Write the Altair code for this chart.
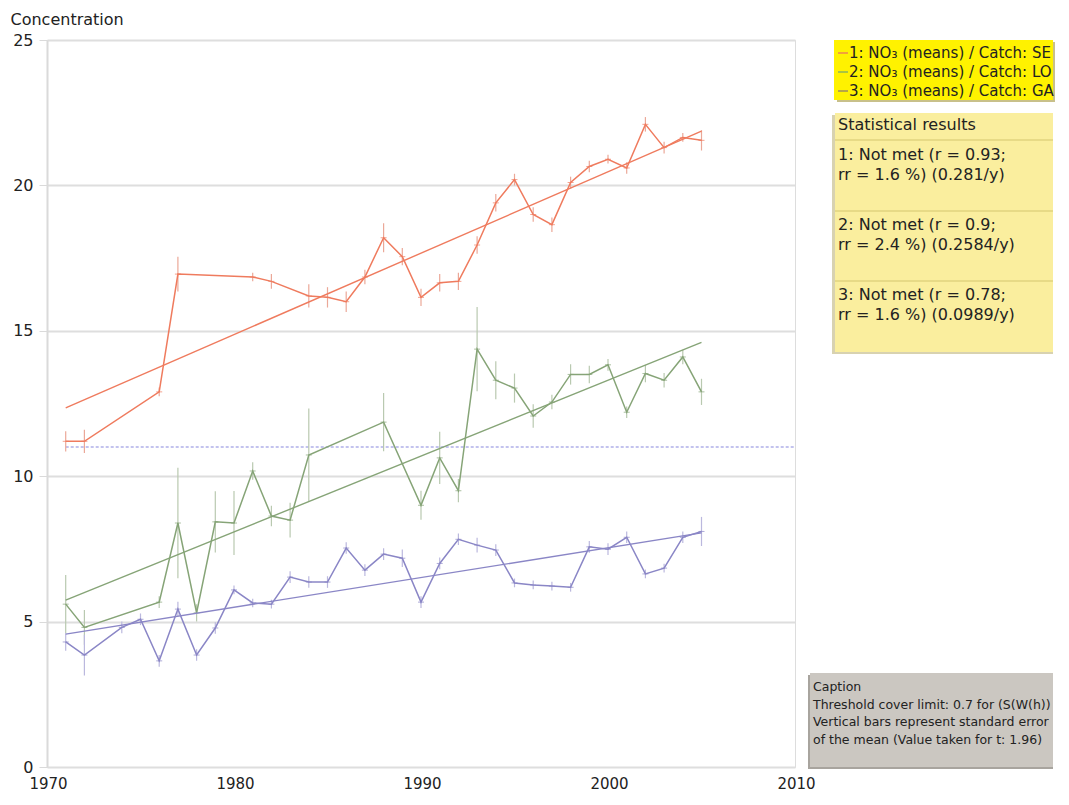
import altair as alt
import pandas as pd

# ---------------- data ----------------
se_years = [1971, 1972, 1976, 1977, 1981, 1982, 1984, 1985, 1986, 1987, 1988, 1989, 1990, 1991, 1992,
            1993, 1994, 1995, 1996, 1997, 1998, 1999, 2000, 2001, 2002, 2003, 2004, 2005]
se_vals = [11.2, 11.2, 12.9, 16.95, 16.85, 16.7, 16.2, 16.15, 16.0, 16.85, 18.2, 17.55, 16.15, 16.65, 16.7,
           17.95, 19.4, 20.2, 19.0, 18.65, 20.1, 20.65, 20.9, 20.6, 22.1, 21.3, 21.65, 21.55]
se_err = [0.35, 0.4, 0.15, 0.6, 0.15, 0.25, 0.4, 0.35, 0.35, 0.25, 0.5, 0.3, 0.3, 0.3, 0.3,
          0.3, 0.3, 0.2, 0.25, 0.25, 0.2, 0.2, 0.15, 0.2, 0.25, 0.2, 0.15, 0.35]

lo_years = [1971, 1972, 1976, 1977, 1978, 1979, 1980, 1981, 1982, 1983, 1984, 1988, 1990, 1991, 1992,
            1993, 1994, 1995, 1996, 1997, 1998, 1999, 2000, 2001, 2002, 2003, 2004, 2005]
lo_vals = [5.6, 4.8, 5.67, 8.39, 5.3, 8.43, 8.39, 10.18, 8.63, 8.49, 10.73, 11.86, 9.0, 10.63, 9.5,
           14.37, 13.3, 13.03, 12.07, 12.55, 13.5, 13.5, 13.83, 12.2, 13.53, 13.3, 14.1, 12.9]
lo_err = [1.0, 0.6, 0.2, 1.9, 0.3, 1.05, 1.1, 0.3, 0.35, 0.6, 1.6, 1.0, 0.5, 0.9, 0.4,
          1.45, 0.65, 0.5, 0.4, 0.25, 0.35, 0.3, 0.2, 0.2, 0.3, 0.25, 0.25, 0.45]

ga_years = [1971, 1972, 1974, 1975, 1976, 1977, 1978, 1979, 1980, 1981, 1982, 1983, 1984, 1985, 1986,
            1987, 1988, 1989, 1990, 1991, 1992, 1993, 1994, 1995, 1996, 1997, 1998, 1999, 2000, 2001,
            2002, 2003, 2004, 2005]
ga_vals = [4.3, 3.85, 4.8, 5.08, 3.65, 5.43, 3.85, 4.78, 6.09, 5.64, 5.6, 6.53, 6.36, 6.36, 7.53,
           6.77, 7.32, 7.18, 5.67, 7.0, 7.83, 7.63, 7.46, 6.33, 6.26, 6.22, 6.18, 7.57, 7.49, 7.9,
           6.64, 6.84, 7.9, 8.1]
ga_err = [0.3, 0.7, 0.2, 0.2, 0.2, 0.25, 0.2, 0.2, 0.15, 0.15, 0.15, 0.2, 0.2, 0.2, 0.2,
          0.2, 0.2, 0.3, 0.2, 0.2, 0.2, 0.25, 0.2, 0.15, 0.15, 0.15, 0.15, 0.2, 0.2, 0.2,
          0.15, 0.15, 0.2, 0.5]

trend_years = [1971, 2005]
se_trend = [12.35, 21.87]
lo_trend = [5.74, 14.6]
ga_trend = [4.57, 8.05]

threshold_years = [1971, 2010]
threshold_vals = [11.0, 11.0]

x_ticks = [1970, 1980, 1990, 2000, 2010]
y_ticks = [0, 5, 10, 15, 20, 25]

legend_lines = ["1: NO\u2083 (means) / Catch: SE",
                "2: NO\u2083 (means) / Catch: LO",
                "3: NO\u2083 (means) / Catch: GA"]
stats_title = "Statistical results"
stats_lines = [["1: Not met (r = 0.93;", "rr = 1.6 %) (0.281/y)"],
               ["2: Not met (r = 0.9;", "rr = 2.4 %) (0.2584/y)"],
               ["3: Not met (r = 0.78;", "rr = 1.6 %) (0.0989/y)"]]
caption_lines = ["Caption",
                 "Threshold cover limit: 0.7 for (S(W(h))",
                 "Vertical bars represent standard error",
                 "of the mean (Value taken for t: 1.96)"]

# ---------------- styling ----------------
FONT = "DejaVu Sans"
W, H = 748, 727
RIGHT = 1006  # right edge of side boxes, in plot coordinates
line_colors = ["#EF7B5E", "#86A477", "#8A86C6"]
err_colors = ["#EBA898", "#B9C9B0", "#BBB8DE"]
legend_marker_colors = ["#F2A23A", "#A9C443", "#B7A646"]

xs = alt.Scale(domain=[1970, 2010], nice=False, zero=False)
ys = alt.Scale(domain=[0, 25], nice=False, zero=True)

X = alt.X("year:Q", scale=xs,
          axis=alt.Axis(values=x_ticks, format="d", title=None, grid=False, domain=False,
                        ticks=False, labelFontSize=15, labelPadding=9, labelColor="#222",
                        labelFont=FONT, labelFlush=False, labelOffset=1))
Y = alt.Y("value:Q", scale=ys,
          axis=alt.Axis(values=y_ticks, title="Concentration", titleAngle=0, titleAlign="left",
                        titleBaseline="alphabetic", titleX=-37, titleY=-16, titleFontSize=16,
                        titleFontWeight="normal", titleColor="#222", titleFont=FONT,
                        labelFontSize=16, labelPadding=6, labelColor="#222", labelFont=FONT,
                        tickSize=8, tickColor="#DADADA", domainColor="#DADADA", domainWidth=2,
                        grid=True, gridColor="#DEDEDE", gridWidth=2))

series = [
    (se_years, se_vals, se_err, se_trend),
    (lo_years, lo_vals, lo_err, lo_trend),
    (ga_years, ga_vals, ga_err, ga_trend),
]

layers = []

thr = pd.DataFrame({"year": threshold_years, "value": threshold_vals})
layers.append(alt.Chart(thr).mark_line(color="#C3C3EE", strokeWidth=2, strokeDash=[3, 2]).encode(x=X, y=Y))

for i, (yrs, vals, errs, trend) in enumerate(series):
    df = pd.DataFrame({"year": yrs, "value": vals,
                       "lo": [v - e for v, e in zip(vals, errs)],
                       "hi": [v + e for v, e in zip(vals, errs)]})
    layers.append(alt.Chart(df).mark_rule(color=err_colors[i], strokeWidth=1.2).encode(
        x=X, y=alt.Y("lo:Q", scale=ys), y2="hi:Q"))
    td = pd.DataFrame({"year": trend_years, "value": trend})
    layers.append(alt.Chart(td).mark_line(color=line_colors[i], strokeWidth=1.4).encode(x=X, y=Y))
    layers.append(alt.Chart(df).mark_line(color=line_colors[i], strokeWidth=1.5).encode(x=X, y=Y))
    layers.append(alt.Chart(df).mark_tick(color=line_colors[i], orient="horizontal", size=6,
                                          thickness=1).encode(x=X, y=Y))

one = alt.Data(values=[{"k": 1}])


def rect(x1, x2, y1, y2, fill, stroke=None, sw=0):
    kw = {"fill": fill}
    if stroke:
        kw.update(stroke=stroke, strokeWidth=sw)
    return alt.Chart(one).mark_rect(**kw).encode(
        x=alt.value(x1), x2=alt.value(x2), y=alt.value(y1), y2=alt.value(y2))


def text(t, x, y, size=16, color="#222"):
    return alt.Chart(one).mark_text(text=t, align="left", baseline="middle", font=FONT,
                                    fontSize=size, color=color).encode(
        x=alt.value(x), y=alt.value(y))


def hline(x1, x2, y, color, sw=1):
    return alt.Chart(one).mark_rule(color=color, strokeWidth=sw).encode(
        x=alt.value(x1), x2=alt.value(x2), y=alt.value(y))


# legend box (bright yellow)
layers.append(rect(790, RIGHT + 2, 2, 62, "#C8C08A"))
layers.append(rect(787, RIGHT, 0, 60, "#FFF200"))
for i, t in enumerate(legend_lines):
    yy = 13 + 19 * i
    layers.append(hline(791, 801, yy, legend_marker_colors[i], 2))
    layers.append(text(t, 802, yy, size=15))

# statistical results box
layers.append(rect(785, RIGHT, 75, 314, "#D8D2B0"))
layers.append(rect(788, RIGHT, 73, 312, "#FAEE9E"))
layers.append(text(stats_title, 791, 85))
for yy in [100, 171, 241]:
    layers.append(hline(788, RIGHT, yy, "#E7DA86", 2))
for i, pair in enumerate(stats_lines):
    base = 115 + 70 * i
    layers.append(text(pair[0], 791, base))
    layers.append(text(pair[1], 791, base + 20))

# caption box (gray)
layers.append(rect(761, RIGHT, 635, 729, "#A8A49E"))
layers.append(rect(763, RIGHT, 633, 727, "#CBC7C1"))
for i, t in enumerate(caption_lines):
    layers.append(text(t, 766, 647 + 17.6 * i, size=12.5))

chart = alt.layer(*layers).properties(
    width=W, height=H,
    padding={"left": 39, "top": 32, "right": 266, "bottom": 24},
    autosize=alt.AutoSizeParams(type="none"),
).configure_view(stroke="#DEDEDE", strokeWidth=2).configure(background="white")

chart.save("out.html", embed_options={"renderer": "svg", "actions": False})
